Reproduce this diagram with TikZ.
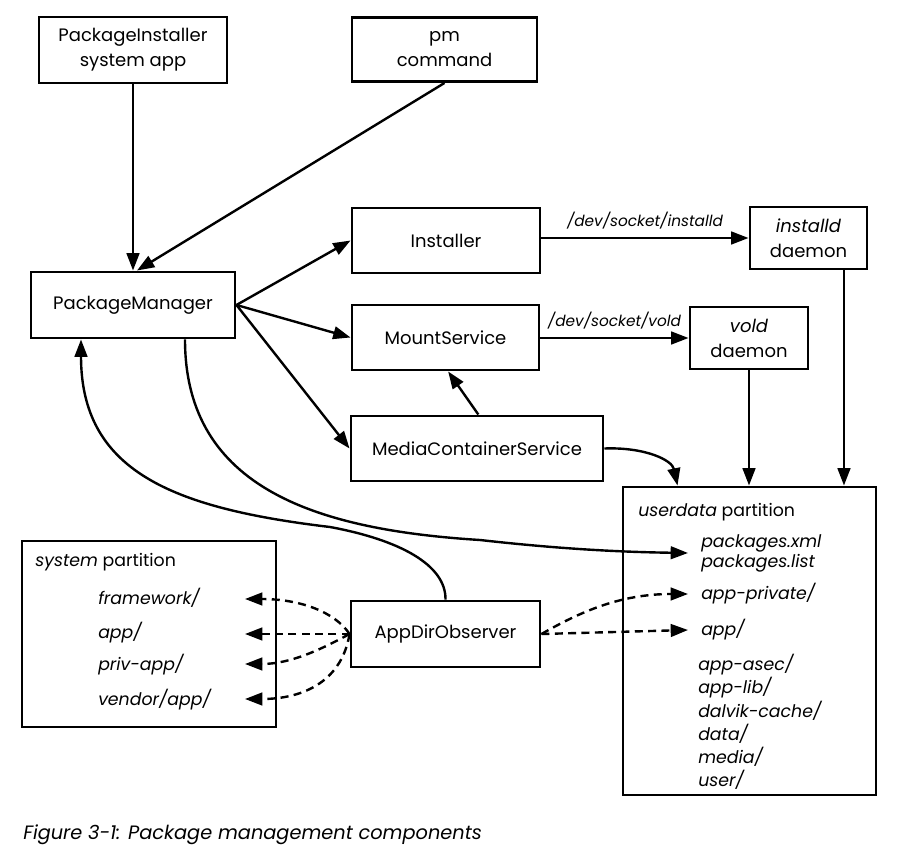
\documentclass[tikz,border=0pt]{standalone}
\usepackage{fontspec}
\setmainfont{Poppins}
\usetikzlibrary{arrows.meta}
\begin{document}
\begin{tikzpicture}[x=0.75pt,y=-0.75pt,
  box/.style={draw, line width=2.2pt, align=center, inner sep=0pt,
    font=\fontsize{13.5}{18.75}\selectfont},
  arr/.style={line width=1.8pt, -{Triangle[length=13pt,width=9.5pt]}},
  dsh/.style={arr, dash pattern=on 6pt off 4pt},
  lbl/.style={font=\fontsize{11.5}{13}\selectfont\itshape, inner sep=0pt},
  itm/.style={font=\fontsize{13}{17.4}\selectfont\itshape, anchor=west, inner sep=0pt, align=left},
  ttl/.style={font=\fontsize{13}{16}\selectfont, anchor=west, inner sep=0pt}]
\useasboundingbox[fill=white] (0,0) rectangle (899,862);

% boxes
\node[box, minimum width=141pt, minimum height=49.5pt] (pi) at (133,50) {PackageInstaller\\system app};
\node[box, minimum width=138.75pt, minimum height=48pt] (pmc) at (444.5,49.5) {pm\\command};
\node[box, minimum width=141pt, minimum height=48.75pt] (inst) at (446,240.5) {Installer};
\node[box, minimum width=87.75pt, minimum height=46.5pt] (ind) at (808.5,238) {\itshape installd\\daemon};
\node[box, minimum width=153pt, minimum height=49.5pt] (pmgr) at (133,305) {PackageManager};
\node[box, minimum width=140.25pt, minimum height=48.75pt] (mnt) at (445.5,337.5) {MountService};
\node[box, minimum width=88.5pt, minimum height=46.5pt] (vold) at (749,338) {\itshape vold\\daemon};
\node[box, minimum width=189pt, minimum height=48.75pt] (mcs) at (477,448.5) {MediaContainerService};
\node[box, minimum width=189.75pt, minimum height=231pt] (ud) at (749.5,641) {};
\node[box, minimum width=190.5pt, minimum height=139.5pt] (sys) at (149,634) {};
\node[box, minimum width=141.75pt, minimum height=49.5pt] (ado) at (445.5,634) {AppDirObserver};

% userdata partition texts
\node[ttl] (udt) at (638,512) {\textit{userdata} partition};
\node[itm, inner xsep=9.75pt] (pkg) at (688,553) {packages.xml\\[-2.5pt]packages.list};
\node[itm, inner xsep=9.75pt] (apriv) at (688,594) {app-private/};
\node[itm, inner xsep=9.75pt] (uapp) at (688,630) {app/};
\node[itm] (rest) at (698,722) {app-asec/\\app-lib/\\dalvik-cache/\\data/\\media/\\user/};

% system partition texts
\node[ttl] (syst) at (35,562) {\textit{system} partition};
\node[itm] (fw) at (98,598) {framework/};
\node[itm] (sapp) at (98,633) {app/};
\node[itm] (priv) at (98,665) {priv-app/};
\node[itm] (vend) at (98,700) {vendor/app/};
\coordinate (fwtip) at (245,599);
\coordinate (apptip) at (245,634);
\coordinate (privtip) at (245,664);
\coordinate (vendtip) at (245,699);

% caption
\node[font=\fontsize{14.5}{17}\selectfont\itshape, anchor=west, inner sep=0pt] (cap) at (23,835) {Figure 3-1: Package management components};

% solid connectors
\draw[arr] (pi) -- (pmgr);
\draw[arr] (pmc.south) -- ([xshift=3pt]pmgr.north);
\draw[arr] (pmgr.east) -- (inst.west);
\draw[arr] (pmgr.east) -- (mnt.west);
\draw[arr] (pmgr.east) -- (mcs.west);
\draw[arr] (inst.east |- ind.west) -- node[lbl, above=5.5pt] (l1) {/dev/socket/installd} (ind.west);
\draw[arr] (mnt.east |- vold.west) -- node[lbl, above=5.5pt] (l2) {/dev/socket/vold} (vold.west);
\draw[arr] ([xshift=1pt]mcs.north) -- ([xshift=2pt]mnt.south);
\draw[arr] (mcs.east) .. controls (645,447) and (672,460) .. ([xshift=-54pt]ud.north);
\draw[arr] (vold.south) -- (vold.south |- ud.north);
\draw[arr] ([xshift=26.6pt]ind.south) -- ([xshift=26.6pt]ind.south |- ud.north);
\draw[arr] ([xshift=39pt]pmgr.south) .. controls (185,490) and (320,530) .. (480,540)
  .. controls (560,549) and (620,552) .. (pkg.west);
\draw[arr] (ado.north) .. controls (446,565) and (400,540) .. (330,527)
  .. controls (170,508) and (81,470) .. ([xshift=-39pt]pmgr.south);

% dashed connectors
\draw[dsh] (ado.west) .. controls (335,612) and (300,599) .. (fwtip);
\draw[dsh] (ado.west) -- (apptip);
\draw[dsh] (ado.west) .. controls (320,650) and (290,664) .. (privtip);
\draw[dsh] (ado.west) .. controls (342,680) and (305,699) .. (vendtip);
\draw[dsh] (ado.east) .. controls (580,612) and (620,594) .. (apriv.west);
\draw[dsh] (ado.east) -- (uapp.west);
\end{tikzpicture}
\end{document}
